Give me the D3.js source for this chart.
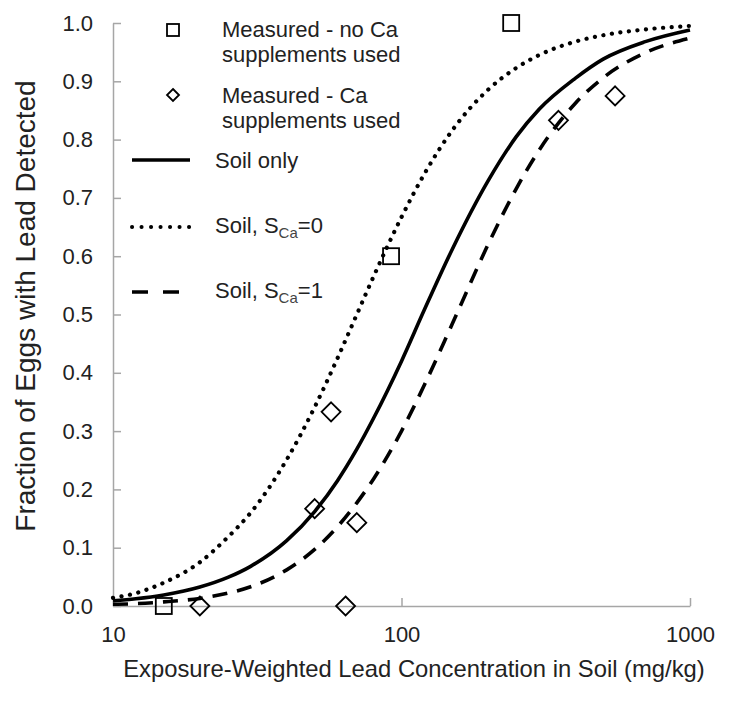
<!DOCTYPE html>
<html>
<head>
<meta charset="utf-8">
<script src="https://cdn.jsdelivr.net/npm/d3@7"></script>
<style>
  html, body { margin: 0; padding: 0; background: #fff; }
  svg { display: block; }
  text { font-family: "Liberation Sans", Arial, sans-serif; fill: #222; }
</style>
</head>
<body>
<svg id="chart" width="729" height="701"></svg>
<script>
// ---- data ----
const xTickValues = [10, 100, 1000];
const yTickValues = [0, 0.1, 0.2, 0.3, 0.4, 0.5, 0.6, 0.7, 0.8, 0.9, 1.0];

const noCaX = [15, 92, 240];
const noCaY = [0.0, 0.6, 1.0];

const caX = [20, 50, 57, 64, 70, 350, 550];
const caY = [0.0, 0.167, 0.333, 0.0, 0.143, 0.833, 0.875];

const curveX    = [10, 12, 15, 20, 25, 30, 40, 50, 60, 70, 80, 100, 120, 150, 200, 250, 300, 400, 500, 700, 1000];
const soilOnly  = [0.009, 0.0125, 0.019, 0.0325, 0.049, 0.068, 0.112, 0.162, 0.215, 0.269, 0.322, 0.420, 0.508, 0.612, 0.730, 0.805, 0.852, 0.905, 0.938, 0.968, 0.988];
const soilSCa0  = [0.014, 0.022, 0.040, 0.075, 0.118, 0.160, 0.251, 0.341, 0.425, 0.500, 0.565, 0.667, 0.741, 0.816, 0.886, 0.923, 0.945, 0.968, 0.979, 0.989, 0.995];
const soilSCa1  = [0.003, 0.004, 0.007, 0.013, 0.022, 0.033, 0.062, 0.097, 0.136, 0.177, 0.218, 0.300, 0.379, 0.484, 0.621, 0.716, 0.782, 0.862, 0.906, 0.949, 0.974];

const xTitle = "Exposure-Weighted Lead Concentration in Soil (mg/kg)";
const yTitle = "Fraction  of Eggs with Lead Detected";

// ---- layout ----
const svg = d3.select("#chart");
const x = d3.scaleLog().domain([10, 1000]).range([113, 690]);
const y = d3.scaleLinear().domain([0, 1]).range([606, 23]);
const axisColor = "#a6a6a6";

// axes
const gy = svg.append("g").attr("transform", `translate(${x(10)},0)`)
  .call(d3.axisLeft(y).tickValues(yTickValues).tickSize(-8).tickSizeOuter(0)
        .tickPadding(20).tickFormat(d3.format(".1f")));
const gx = svg.append("g").attr("transform", `translate(0,${y(0)})`)
  .call(d3.axisBottom(x).tickValues(xTickValues).tickSize(-8).tickSizeOuter(0)
        .tickPadding(20).tickFormat(d3.format("d")));
[gx, gy].forEach(g => {
  g.selectAll("path.domain").attr("stroke", axisColor).attr("stroke-width", 1.5);
  g.selectAll(".tick line").attr("stroke", axisColor).attr("stroke-width", 1.5);
  g.selectAll(".tick text").style("font-size", "22px").attr("fill", "#222")
    .style("font-family", '"Liberation Sans", Arial, sans-serif');
});

// titles
svg.append("text").attr("x", 414).attr("y", 677).attr("text-anchor", "middle")
  .style("font-size", "23.8px").text(xTitle);
svg.append("text").attr("transform", "translate(35,306) rotate(-90)")
  .attr("text-anchor", "middle").style("font-size", "28px").text(yTitle);

// curves
const line = d3.line().x(d => x(d[0])).y(d => y(d[1])).curve(d3.curveMonotoneX);
const series = [
  {vals: soilOnly, dash: null, cap: "butt"},
  {vals: soilSCa0, dash: "0.1 8.5", cap: "round"},
  {vals: soilSCa1, dash: "15 10", cap: "butt"}
];
series.forEach(s => {
  const p = svg.append("path")
    .datum(curveX.map((v, i) => [v, s.vals[i]]))
    .attr("d", line).attr("fill", "none").attr("stroke", "#000")
    .attr("stroke-width", s.cap === "round" ? 4.2 : 3.6)
    .attr("stroke-linecap", s.cap);
  if (s.dash) p.attr("stroke-dasharray", s.dash);
});

// markers
const sq = 16;
svg.append("g").selectAll("rect").data(noCaX.map((v, i) => [v, noCaY[i]])).join("rect")
  .attr("x", d => x(d[0]) - sq / 2).attr("y", d => y(d[1]) - sq / 2)
  .attr("width", sq).attr("height", sq)
  .attr("fill", "none").attr("stroke", "#000").attr("stroke-width", 1.8);
const dm = 9.5;
svg.append("g").selectAll("path").data(caX.map((v, i) => [v, caY[i]])).join("path")
  .attr("d", d => {
    const cx = x(d[0]), cy = y(d[1]);
    return `M${cx},${cy - dm}L${cx + dm},${cy}L${cx},${cy + dm}L${cx - dm},${cy}Z`;
  })
  .attr("fill", "none").attr("stroke", "#000").attr("stroke-width", 1.8);

// legend
const lg = svg.append("g");
const lf = "22px";
lg.append("rect").attr("x", 167).attr("y", 24).attr("width", 12).attr("height", 12)
  .attr("fill", "none").attr("stroke", "#000").attr("stroke-width", 1.8);
lg.append("text").attr("x", 222).attr("y", 37).style("font-size", lf).text("Measured - no Ca");
lg.append("text").attr("x", 222).attr("y", 62).style("font-size", lf).text("supplements used");
lg.append("path").attr("d", "M173,89L179,95L173,101L167,95Z")
  .attr("fill", "none").attr("stroke", "#000").attr("stroke-width", 1.8);
lg.append("text").attr("x", 222).attr("y", 103).style("font-size", lf).text("Measured - Ca");
lg.append("text").attr("x", 222).attr("y", 128).style("font-size", lf).text("supplements used");

const legLines = [
  {yy: 160, ty: 168, dash: null, cap: "butt", label: "Soil only", sub: null, tail: null},
  {yy: 227, ty: 233, dash: "0.1 9.4", cap: "round", label: "Soil, S", sub: "Ca", tail: "=0"},
  {yy: 292, ty: 298, dash: "16 15", cap: "butt", label: "Soil, S", sub: "Ca", tail: "=1"}
];
legLines.forEach(l => {
  const p = lg.append("line").attr("x1", 132).attr("x2", 190).attr("y1", l.yy).attr("y2", l.yy)
    .attr("stroke", "#000").attr("stroke-width", l.cap === "round" ? 4 : 3.6)
    .attr("stroke-linecap", l.cap);
  if (l.dash) p.attr("stroke-dasharray", l.dash);
  const t = lg.append("text").attr("x", 215).attr("y", l.ty).style("font-size", lf);
  t.append("tspan").text(l.label);
  if (l.sub) {
    t.append("tspan").attr("dy", 5).style("font-size", "15px").attr("fill", "#444").text(l.sub);
    t.append("tspan").attr("dy", -5).text(l.tail);
  }
});
</script>
</body>
</html>
